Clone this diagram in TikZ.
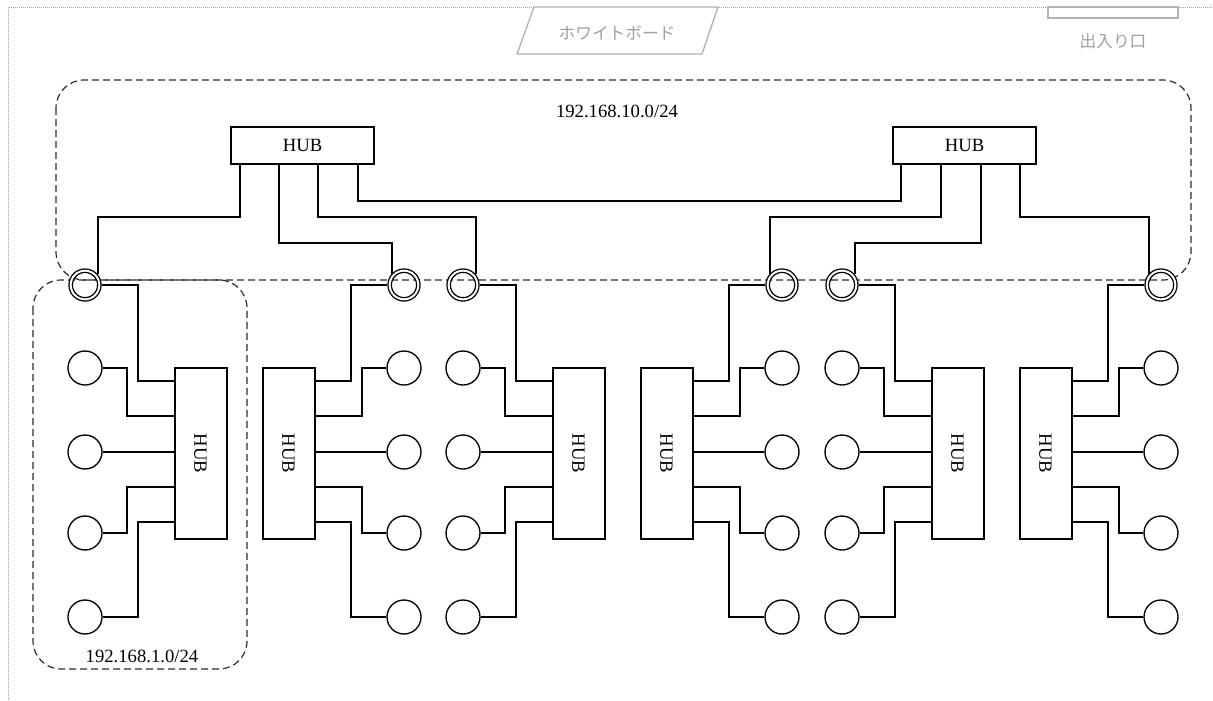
\documentclass[tikz,border=0pt]{standalone}
\usepackage{fontspec}
\setmainfont{Liberation Serif}
\newfontfamily\jp{Noto Sans CJK JP}
\usepackage{graphicx}
\definecolor{gtxt}{RGB}{160,160,160}
\definecolor{gline}{RGB}{178,178,178}
\definecolor{dashcol}{RGB}{45,45,45}
\begin{document}
\begin{tikzpicture}[x=0.75pt,y=-0.75pt,
  txt/.style={font=\fontsize{14}{16}\selectfont},
  jptxt/.style={font=\jp\fontsize{12.5}{14}\selectfont, text=gtxt},
  hubh/.style={draw, line width=1.5pt, minimum width=107.25pt, minimum height=27.75pt, inner sep=0pt, txt},
  hubv/.style={draw, line width=1.5pt, minimum width=39pt, minimum height=128.25pt, inner sep=0pt, txt},
  pc/.style={circle, draw, line width=1pt, minimum size=25.5pt, inner sep=0pt},
  dc/.style={circle, draw, line width=1pt, double, double distance=1.5pt, minimum size=21.5pt, inner sep=0pt, outer sep=1.75pt},
  wire/.style={line width=1.5pt},
  net/.style={draw=dashcol, line width=0.9pt, dash pattern=on 5.25pt off 3pt, rounded corners=21pt},
  frame/.style={draw=gtxt, line width=0.75pt, dash pattern=on 0.75pt off 0.75pt},
  fixture/.style={draw=gline, fill=white, line width=1pt},
]
\useasboundingbox (0,0) rectangle (1213,700);
% room frame
\draw[frame] (8,700) -- (8,7) -- (1213,7);
% whiteboard and entrance
\draw[fixture] (534,7) -- (718,7) -- (702,54) -- (517,54) -- cycle;
\node[jptxt] (wb) at (617,33) {ホワイトボード};
\draw[fixture] (1048,7) rectangle (1178,18);
\node[jptxt] (door) at (1113,41) {出入り口};
% network areas
\draw[net] (56,80) rectangle (1191,280);
\draw[net] (33,280) rectangle (247,669);
\node[txt, anchor=base] (n10) at (617,117) {192.168.10.0/24};
\node[txt, anchor=base] (n1) at (142,662) {192.168.1.0/24};
% top hubs
\node[hubh] (H1) at (302.5,145.5) {HUB};
\node[hubh] (H2) at (964.5,145.5) {HUB};
% groups
\foreach \i/\cx/\s/\ha/\ca in {1/85/1/west/east, 2/404/-1/east/west, 3/463/1/west/east, 4/782/-1/east/west, 5/842/1/west/east, 6/1161/-1/east/west} {
  \node[hubv] (h\i) at ({\cx+(\s)*115.5},453.5) {\rotatebox{-90}{HUB}};
  \node[dc] (d\i) at (\cx,285) {};
  \node[pc] (a\i) at (\cx,368) {};
  \node[pc] (b\i) at (\cx,452) {};
  \node[pc] (c\i) at (\cx,533) {};
  \node[pc] (e\i) at (\cx,617) {};
  \draw[wire] (d\i.\ca) -| ({\cx+(\s)*53},381) -- (h\i.\ha |- 0,381);
  \draw[wire] (a\i.\ca) -| ({\cx+(\s)*42},416) -- (h\i.\ha |- 0,416);
  \draw[wire] (b\i.\ca) -- (h\i.\ha |- 0,452);
  \draw[wire] (c\i.\ca) -| ({\cx+(\s)*42},487) -- (h\i.\ha |- 0,487);
  \draw[wire] (e\i.\ca) -| ({\cx+(\s)*53},522) -- (h\i.\ha |- 0,522);
}
% backbone
\draw[wire] (H1.south -| 240,0) -- (240,217) -| (d1.40);
\draw[wire] (H1.south -| 279,0) -- (279,243) -| (d2.137);
\draw[wire] (H1.south -| 318,0) -- (318,217) -| (d3.40);
\draw[wire] (H1.south -| 358,0) -- (358,201) -| (H2.south -| 901,0);
\draw[wire] (H2.south -| 941,0) -- (941,217) -| (d4.137);
\draw[wire] (H2.south -| 981,0) -- (981,243) -| (d5.40);
\draw[wire] (H2.south -| 1020,0) -- (1020,217) -| (d6.137);
\end{tikzpicture}
\end{document}
